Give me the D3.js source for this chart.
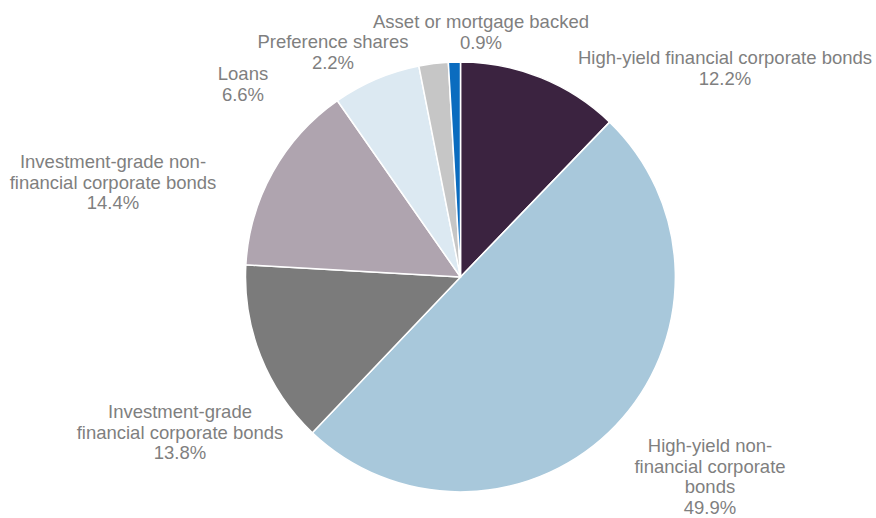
<!DOCTYPE html>
<html><head><meta charset="utf-8">
<script src="https://cdn.jsdelivr.net/npm/d3@7"></script>
<style>body{margin:0;background:#fff}svg{display:block}</style>
</head><body>
<svg id="c" width="876" height="518"></svg>
<script>
const categories = [
  "High-yield financial corporate bonds",
  "High-yield non-financial corporate bonds",
  "Investment-grade financial corporate bonds",
  "Investment-grade non-financial corporate bonds",
  "Loans",
  "Preference shares",
  "Asset or mortgage backed"
];
const values = [12.2, 49.9, 13.8, 14.4, 6.6, 2.2, 0.9];
const labelLines = [
  ["High-yield financial corporate bonds"],
  ["High-yield non-", "financial corporate", "bonds"],
  ["Investment-grade", "financial corporate bonds"],
  ["Investment-grade non-", "financial corporate bonds"],
  ["Loans"],
  ["Preference shares"],
  ["Asset or mortgage backed"]
];
const colors = ["#3B2340", "#A8C8DB", "#7B7B7B", "#AFA4AF", "#DCE9F2", "#C6C6C6", "#0B6CBF"];
// label anchor (centre x, first baseline y)
const labelPos = [[725, 64], [710, 452], [180, 418], [113, 168], [243, 80], [333, 48], [481, 28]];
const lineH = 20.6;

const svg = d3.select("#c");
const cx = 460.5, cy = 277, r = 215;
const pie = d3.pie().sort(null).value(d => d)(values);
const arc = d3.arc().innerRadius(0).outerRadius(r);
const g = svg.append("g").attr("transform", `translate(${cx},${cy})`);
g.selectAll("path").data(pie).join("path")
  .attr("d", arc)
  .attr("fill", (d, i) => colors[i])
  .attr("stroke", "#fff").attr("stroke-width", 1.5).attr("stroke-linejoin", "round");

const fmt = d3.format(".1f");
categories.forEach((c, i) => {
  const [x, y] = labelPos[i];
  const lines = labelLines[i].concat([fmt(values[i]) + "%"]);
  const t = svg.append("text").attr("text-anchor", "middle")
    .attr("font-family", "Liberation Sans, Arial, sans-serif").attr("font-size", 18.5).attr("fill", "#7F7F7F");
  lines.forEach((l, j) => t.append("tspan").attr("x", x).attr("y", y + j * lineH).text(l));
});
</script>
</body></html>
